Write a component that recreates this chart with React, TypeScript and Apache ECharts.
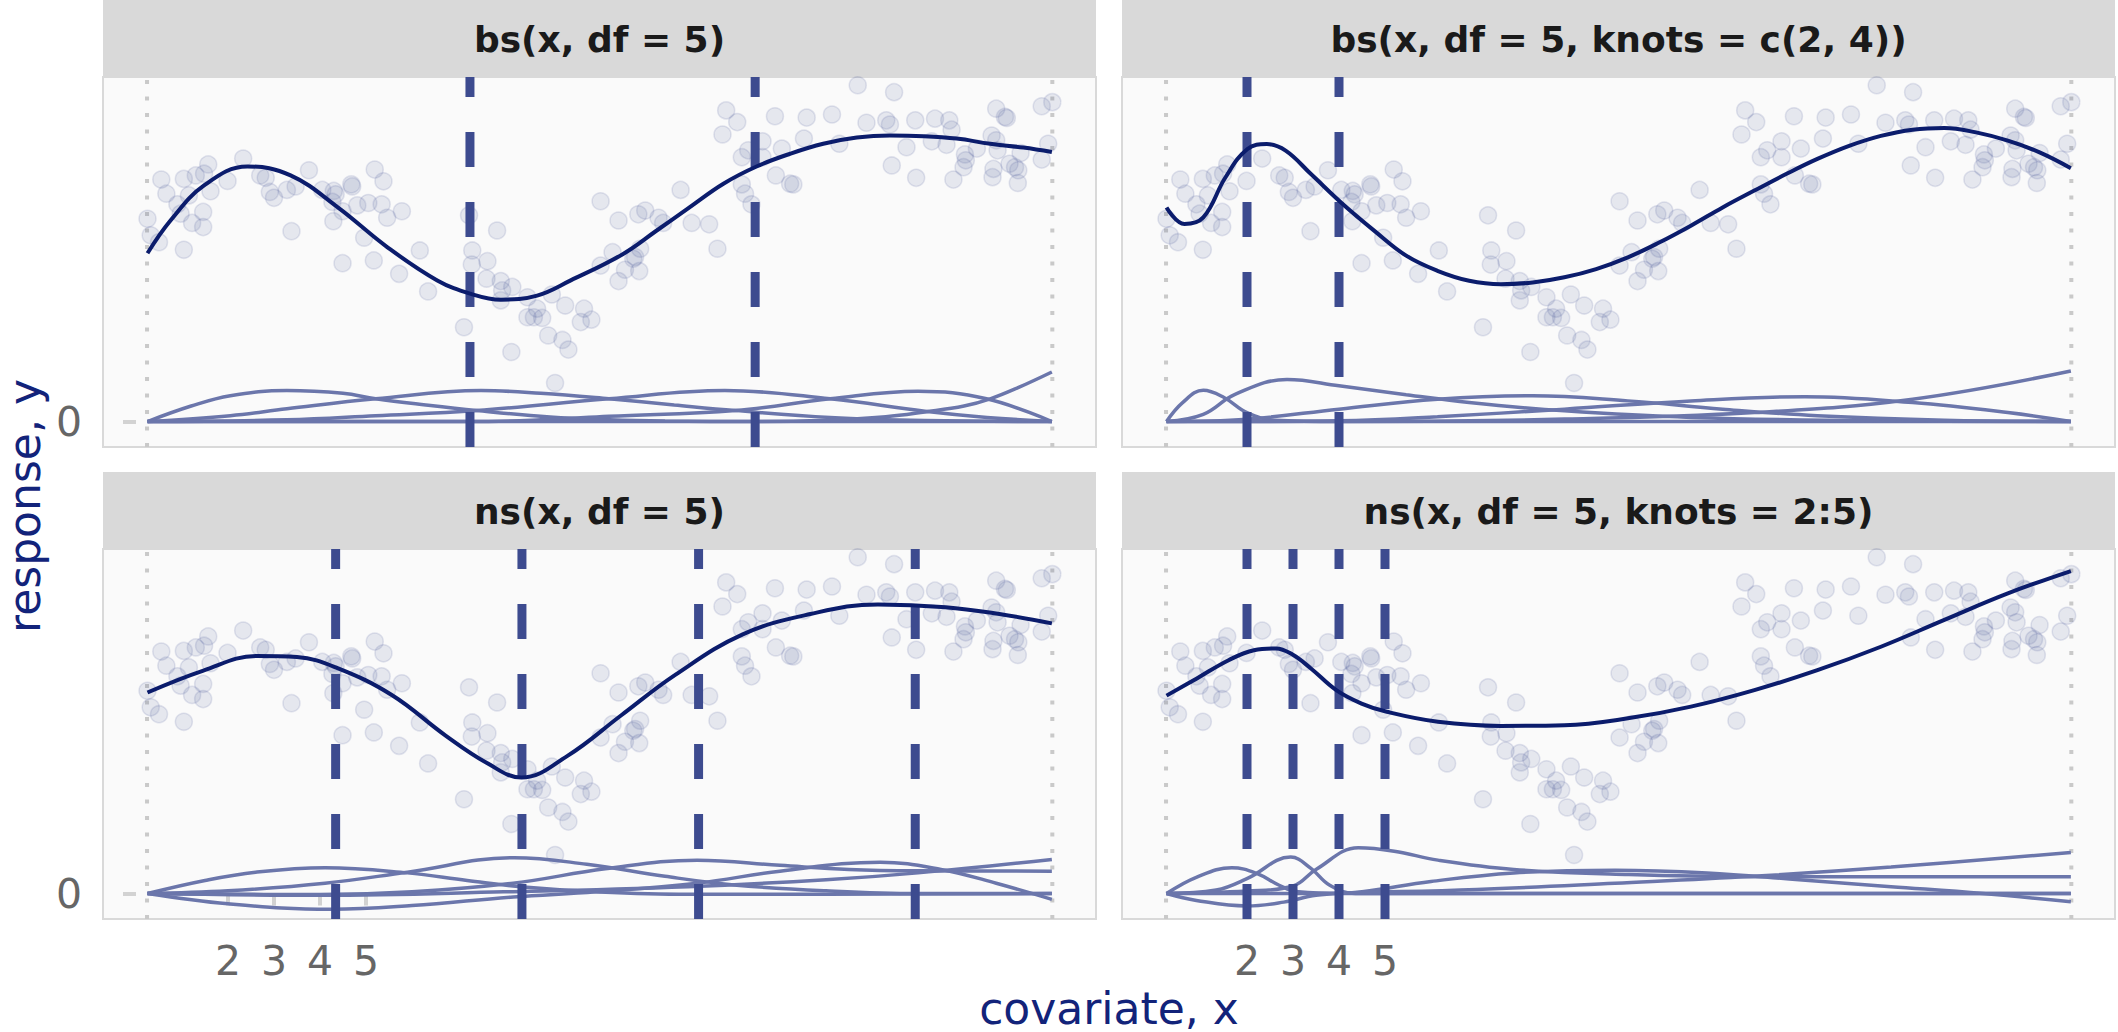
import React, { useEffect, useRef } from "react";
import * as echarts from "echarts";

// ---------- data ----------
const ptX = [0.25,0.32,0.5,0.55,0.66,0.9,0.97,1.04,1.04,1.15,1.22,1.3,1.46,1.46,1.48,1.57,1.62,1.99,2.33,2.7,2.82,2.91,3.0,3.28,3.38,3.47,3.76,4.05,4.3,4.34,4.27,4.29,4.49,4.49,4.68,4.7,4.81,4.96,5.05,5.17,5.19,5.38,5.34,5.46,5.72,5.78,6.17,6.35,7.24,7.13,7.31,7.3,7.64,7.62,7.85,7.93,7.96,7.93,8.18,8.16,8.51,8.51,8.65,8.72,8.83,8.96,9.04,9.11,9.27,9.33,9.4,9.67,9.74,9.9,10.1,10.1,10.36,10.49,10.49,10.63,10.81,10.85,10.94,10.96,10.92,11.07,11.36,11.46,11.84,12.08,12.46,12.64,12.75,12.83,13.07,13.17,13.17,13.24,13.31,13.38,13.62,13.62,13.89,13.91,14.04,14.22,14.29,14.52,14.58,15.13,15.29,15.69,15.88,16.31,16.39,16.43,16.48,16.75,16.94,16.96,17.3,17.37,17.62,17.68,17.73,17.77,18.02,17.99,18.04,18.28,18.6,18.62,18.64,18.7,18.7,18.73,18.89,18.93,18.99,19.11,19.17,19.18,19.23,19.69,19.69,19.83,19.92];
const ptY = [5.89,5.41,5.21,7.03,6.62,6.31,6.04,4.99,7.05,6.57,5.77,7.15,6.09,5.65,7.2,7.47,6.69,6.99,7.64,7.15,7.08,6.67,6.5,6.73,5.53,6.83,7.3,6.73,6.7,6.6,6.38,5.82,6.11,4.6,6.89,6.83,6.28,5.34,6.35,4.68,7.32,6.98,6.31,5.92,4.29,6.11,4.97,3.78,5.99,2.74,4.97,4.56,4.66,4.15,5.55,4.08,3.81,3.52,3.91,2.02,3.61,3.03,3.03,3.28,3.01,2.5,3.69,1.12,2.37,3.37,2.09,2.89,3.28,2.96,6.4,4.53,4.92,5.84,4.08,4.41,4.73,4.78,4.37,5.02,6.02,6.13,5.92,5.77,6.73,5.77,5.73,5.02,8.34,9.04,8.7,7.68,6.89,6.62,7.88,6.31,8.14,7.68,8.87,7.15,7.93,6.91,6.89,8.22,8.83,8.92,8.07,9.77,8.68,8.75,8.63,7.44,9.57,7.97,8.75,7.08,8.14,8.8,8.04,8.75,8.48,7.03,7.76,7.39,7.59,7.93,8.31,7.1,7.34,9.09,8.17,7.88,8.85,8.82,7.49,7.39,6.93,7.3,7.8,9.16,7.61,8.07,9.28];

const xDataRange = [0.24, 19.92];
const xTickValues = [2, 3, 4, 5];
const yTickValues = [0];

const facetTitles = [
  "bs(x, df = 5)",
  "bs(x, df = 5, knots = c(2, 4))",
  "ns(x, df = 5)",
  "ns(x, df = 5, knots = 2:5)",
];

const knotsBs5 = [7.26, 13.46];
const knotsBsC24 = [2, 4];
const knotsNs5 = [4.34, 8.39, 12.23, 16.94];
const knotsNs25 = [2, 3, 4, 5];

const fitBs5 = [[0.25,4.89],[0.75,5.84],[1.48,6.86],[2.42,7.41],[3.36,7.15],[4.38,6.23],[5.46,5.07],[6.55,4.1],[7.28,3.71],[7.93,3.54],[8.72,3.66],[9.45,4.1],[10.59,4.87],[11.32,5.55],[12.04,6.23],[12.77,6.91],[13.49,7.41],[14.22,7.78],[14.94,8.07],[15.67,8.25],[16.39,8.31],[17.12,8.29],[17.84,8.22],[18.57,8.07],[19.29,7.96],[19.91,7.83]];
const fitBsC24 = [[0.25,6.22],[0.64,5.74],[1.05,5.93],[1.53,7.09],[2.01,7.92],[2.43,8.06],[2.84,7.87],[3.39,7.19],[4.08,6.32],[4.77,5.54],[5.46,4.82],[6.14,4.38],[6.83,4.09],[7.52,3.99],[8.21,4.04],[8.9,4.19],[9.59,4.43],[10.28,4.77],[10.96,5.2],[11.65,5.69],[12.34,6.22],[13.03,6.71],[13.72,7.19],[14.4,7.63],[15.09,8.01],[15.78,8.3],[16.47,8.48],[17.16,8.53],[17.85,8.4],[18.54,8.16],[19.23,7.82],[19.91,7.36]];
const fitNs5 = [[0.25,5.84],[1.45,6.47],[2.62,6.9],[3.5,6.87],[4.38,6.55],[5.56,5.77],[6.73,4.59],[7.62,3.8],[8.38,3.37],[9.38,4.0],[10.55,5.18],[11.73,6.36],[13.19,7.53],[14.66,8.12],[16.13,8.4],[17.6,8.32],[18.77,8.12],[19.91,7.85]];
const fitNs25 = [[0.25,5.75],[0.91,6.25],[1.6,6.78],[2.15,7.07],[2.63,7.12],[2.98,6.95],[3.39,6.54],[3.94,5.91],[4.49,5.52],[5.04,5.28],[6.15,4.99],[7.52,4.87],[8.9,4.89],[10.28,5.09],[11.65,5.43],[13.03,5.91],[14.4,6.49],[15.78,7.17],[17.16,7.95],[18.54,8.72],[19.91,9.37]];

const basisBs5_1 = [[0.25,0],[1.2,0.45],[2.05,0.75],[3.28,0.9],[4.5,0.82],[5.21,0.66],[6.3,0.48],[7.4,0.32],[9.0,0.13],[10.3,0.05],[11.5,0.015],[13.46,0],[19.91,0]];
const basisBs5_2 = [[0.25,0],[2.05,0.17],[3.28,0.37],[5.21,0.66],[7.5,0.9],[8.8,0.82],[10.28,0.66],[11.7,0.48],[13.03,0.32],[15.09,0.12],[17.15,0.03],[19.91,0]];
const basisBs5_3 = [[0.25,0],[3.28,0.05],[5.21,0.17],[7.4,0.32],[10.28,0.66],[12.8,0.9],[15.09,0.66],[17.15,0.3],[18.5,0.12],[19.91,0]];
const basisBs5_4 = [[0.25,0],[7.26,0],[8.8,0.05],[10.28,0.15],[13.03,0.32],[15.09,0.66],[17.0,0.88],[18.49,0.66],[19.91,0]];
const basisBs5_5 = [[0.25,0],[13.46,0],[15.0,0.04],[16.3,0.14],[17.15,0.28],[18.0,0.45],[18.57,0.66],[19.2,1.0],[19.91,1.44]];

const basisBsC24_1 = [[0.25,0],[0.6,0.55],[1.05,0.91],[1.5,0.7],[2.0,0.26],[2.6,0.04],[4.0,0],[19.91,0]];
const basisBsC24_2 = [[0.25,0],[1.05,0.21],[1.74,0.79],[2.87,1.22],[4.0,1.04],[5.46,0.78],[6.83,0.55],[8.9,0.31],[11.65,0.12],[15.78,0.02],[19.91,0]];
const basisBsC24_3 = [[0.25,0],[2.0,0.07],[4.0,0.36],[6.14,0.65],[8.21,0.75],[10.28,0.6],[12.34,0.36],[14.4,0.17],[17.16,0.04],[19.91,0]];
const basisBsC24_4 = [[0.25,0],[2.0,0],[4.0,0.02],[6.14,0.14],[8.9,0.36],[11.65,0.6],[14.13,0.72],[16.47,0.55],[18.54,0.26],[19.91,0]];
const basisBsC24_5 = [[0.25,0],[4.0,0],[8.9,0.07],[13.03,0.26],[16.47,0.65],[19.91,1.47]];

const basisNs5_1 = [[0.25,0],[1.5,0.38],[2.6,0.62],[4.11,0.75],[5.9,0.6],[7.2,0.38],[8.5,0.18],[10,0.05],[12,-0.02],[15,-0.02],[19.91,0]];
const basisNs5_2 = [[0.25,0],[2,0.08],[4.11,0.3],[5.9,0.62],[8.22,1.04],[9.8,0.85],[11.5,0.5],[13,0.25],[15,0.08],[17,0],[19.91,0]];
const basisNs5_3 = [[0.25,0],[4,-0.03],[6,0.05],[8.2,0.3],[10.2,0.72],[12.2,0.97],[14,0.82],[15.5,0.7],[17,0.66],[19.91,0.65]];
const basisNs5_4 = [[0.25,0],[2,-0.3],[4.25,-0.46],[6,-0.35],[8.2,-0.1],[10,0.05],[12.2,0.3],[14,0.65],[16.18,0.91],[17.5,0.7],[18.7,0.3],[19.91,-0.17]];
const basisNs5_5 = [[0.25,0],[4,-0.05],[8,0.05],[12,0.2],[15,0.4],[17,0.6],[19.91,0.99]];

const basisNs25_1 = [[0.25,0],[0.91,0.48],[1.67,0.75],[2.22,0.58],[2.7,0.24],[3.12,0.05],[4.08,0],[19.91,0]];
const basisNs25_2 = [[0.25,0],[1.33,0.1],[2.01,0.44],[2.95,1.06],[3.39,0.73],[3.8,0.24],[4.36,0],[19.91,0]];
const basisNs25_3 = [[0.25,0],[2.0,0.07],[3.0,0.22],[3.5,0.7],[4.42,1.33],[5.2,1.23],[6.15,0.97],[7.8,0.7],[10.3,0.55],[13,0.49],[16,0.49],[19.91,0.49]];
const basisNs25_4 = [[0.25,0],[0.9,-0.2],[2.0,-0.36],[2.8,-0.25],[3.5,-0.05],[4.5,0.05],[6,0.35],[7.8,0.6],[10,0.68],[12,0.6],[14,0.4],[16,0.2],[18,0],[19.91,-0.24]];
const basisNs25_5 = [[0.25,0],[2,0],[3.5,0],[4.5,0.03],[7,0.12],[10,0.3],[13,0.5],[16,0.77],[19.91,1.19]];

const fits = [fitBs5, fitBsC24, fitNs5, fitNs25];
const knots = [knotsBs5, knotsBsC24, knotsNs5, knotsNs25];
const bases = [
  [basisBs5_1, basisBs5_2, basisBs5_3, basisBs5_4, basisBs5_5],
  [basisBsC24_1, basisBsC24_2, basisBsC24_3, basisBsC24_4, basisBsC24_5],
  [basisNs5_1, basisNs5_2, basisNs5_3, basisNs5_4, basisNs5_5],
  [basisNs25_1, basisNs25_2, basisNs25_3, basisNs25_4, basisNs25_5],
];

// ---------- layout / style ----------
const FONT = '"DejaVu Sans", sans-serif';
const PANEL_W = 993;
const PANEL_H = 370;
const PX_PER_X = 46;
const X_MIN = 2 - 125 / PX_PER_X;
const X_MAX = X_MIN + PANEL_W / PX_PER_X;
const Y_MIN = -0.74;
const Y_MAX = 10.01;
const panelPos = [
  { left: 103, top: 77 },
  { left: 1122, top: 77 },
  { left: 103, top: 549 },
  { left: 1122, top: 549 },
];
const NAVY = "#0b1c6c";
const KNOT = "#3d4b8f";
const BASIS = "#6b76ab";

export default function App() {
  const ref = useRef<HTMLDivElement>(null);
  useEffect(() => {
    if (!ref.current) return;
    const chart = echarts.init(ref.current, undefined, { renderer: "svg" });
    const grids: any[] = [];
    const xAxes: any[] = [];
    const yAxes: any[] = [];
    const series: any[] = [];
    const graphics: any[] = [];
    const pts = ptX.map((x, j) => [x, ptY[j]]);

    panelPos.forEach((p, i) => {
      grids.push({
        left: p.left, top: p.top, width: PANEL_W, height: PANEL_H,
        show: true, backgroundColor: "#fafafa", borderColor: "#d9d9d9", borderWidth: 2,
      });
      const bottomRow = i >= 2;
      const leftCol = i % 2 === 0;
      xAxes.push({
        type: "value", gridIndex: i, min: X_MIN, max: X_MAX,
        axisLine: { show: false }, splitLine: { show: false },
        axisTick: { show: bottomRow, customValues: xTickValues, length: 12, lineStyle: { color: "#d2d2d2", width: 4 } },
        axisLabel: { show: bottomRow, customValues: xTickValues, fontSize: 41, color: "#666666", fontFamily: FONT, margin: 21 },
      });
      yAxes.push({
        type: "value", gridIndex: i, min: Y_MIN, max: Y_MAX,
        axisLine: { show: false }, splitLine: { show: false },
        axisTick: { show: leftCol, customValues: yTickValues, length: 13, lineStyle: { color: "#d2d2d2", width: 4 } },
        axisLabel: { show: leftCol, customValues: yTickValues, fontSize: 41, color: "#666666", fontFamily: FONT, margin: 21 },
      });
      const ax = { xAxisIndex: i, yAxisIndex: i, silent: true, animation: false };
      xDataRange.forEach((x) => {
        series.push({
          ...ax, type: "line", symbol: "none", z: 1,
          data: [[x, Y_MIN], [x, Y_MAX]],
          lineStyle: { color: "#c9c9c9", width: 4, type: [4, 12.5] },
        });
      });
      series.push({
        ...ax, type: "scatter", data: pts, symbolSize: 17, z: 2,
        itemStyle: { color: "rgba(61,75,143,0.13)", borderColor: "rgba(61,75,143,0.17)", borderWidth: 1.5 },
      });
      bases[i].forEach((b) => {
        series.push({
          ...ax, type: "line", symbol: "none", smooth: 0.4, z: 3, data: b,
          lineStyle: { color: BASIS, width: 3.5 },
        });
      });
      knots[i].forEach((k) => {
        series.push({
          ...ax, type: "line", symbol: "none", z: 4,
          data: [[k, Y_MIN], [k, Y_MAX]],
          lineStyle: { color: KNOT, width: 9, type: [35, 35], cap: "butt" },
        });
      });
      series.push({
        ...ax, type: "line", symbol: "none", smooth: 0.4, z: 5, data: fits[i],
        lineStyle: { color: NAVY, width: 4 },
      });
      // strip
      graphics.push({
        type: "rect", shape: { x: p.left, y: p.top - 77, width: PANEL_W, height: 76 },
        style: { fill: "#d9d9d9" }, silent: true,
      });
      graphics.push({
        type: "text", x: p.left + PANEL_W / 2, y: p.top - 38,
        style: { text: facetTitles[i], fontSize: 36, fontWeight: "bold", fontFamily: FONT, fill: "#1a1a1a", align: "center", verticalAlign: "middle" },
        silent: true,
      });
    });

    graphics.push({
      type: "text", x: 1109, y: 1030,
      style: { text: "covariate, x", fontSize: 44, lineHeight: 44, fontFamily: FONT, fill: "#12237a", align: "center", verticalAlign: "bottom" },
    });
    graphics.push({
      type: "text", x: 24, y: 506, rotation: Math.PI / 2,
      style: { text: "response, y", fontSize: 44, lineHeight: 44, fontFamily: FONT, fill: "#12237a", align: "center", verticalAlign: "middle" },
    });

    chart.setOption({
      animation: false,
      backgroundColor: "#ffffff",
      grid: grids,
      xAxis: xAxes,
      yAxis: yAxes,
      series,
      graphic: graphics,
    });
    return () => chart.dispose();
  }, []);
  return <div ref={ref} style={{ position: "fixed", left: 0, top: 0, width: 2118, height: 1032 }} />;
}
